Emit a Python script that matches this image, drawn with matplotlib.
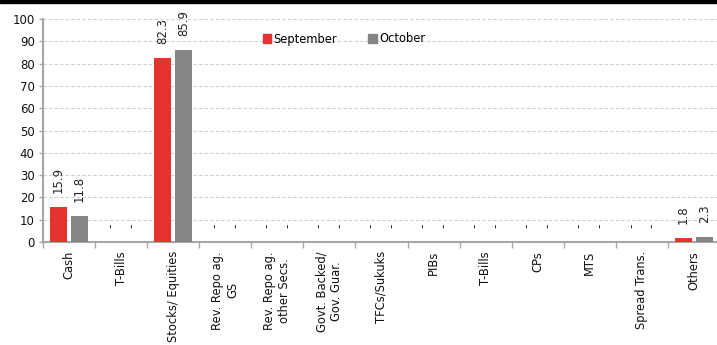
import matplotlib
matplotlib.use("Agg")
import matplotlib.pyplot as plt
import numpy as np
from matplotlib.patches import Rectangle, Patch

categories = ["Cash", "T-Bills", "Stocks/ Equities", "Rev. Repo ag.\nGS",
              "Rev. Repo ag.\nother Secs.", "Govt. Backed/\nGov. Guar.",
              "TFCs/Sukuks", "PIBs", "T-Bills", "CPs", "MTS",
              "Spread Trans.", "Others"]
september = [15.9, 0, 82.3, 0, 0, 0, 0, 0, 0, 0, 0, 0, 1.8]
october = [11.8, 0, 85.9, 0, 0, 0, 0, 0, 0, 0, 0, 0, 2.3]
series_names = ["September", "October"]
colors = ["#E53430", "#858585"]

plt.rcParams['font.family'] = ['DejaVu Sans']

W, H = 717, 345
fig = plt.figure(figsize=(W / 100, H / 100), dpi=100)
left, right, top, bottom = 43, 720, 19, 242
ax = fig.add_axes([left / W, 1 - bottom / H, (right - left) / W, (bottom - top) / H])

x = np.arange(len(categories))
bw = 0.33
off = 0.2
for vals, name, c, sgn in [(september, series_names[0], colors[0], -1),
                           (october, series_names[1], colors[1], 1)]:
    bars = ax.bar(x + sgn * off, vals, width=bw, color=c, label=name, zorder=3)
    for b, v in zip(bars, vals):
        lab = "-" if v == 0 else f"{v:.1f}"
        ax.annotate(lab, (b.get_x() + b.get_width() / 2, v),
                    xytext=(0, 14), textcoords='offset pixels',
                    rotation=90, ha='center', va='bottom', fontsize=8.5,
                    color='#222222')

ax.set_xlim(-0.5, len(categories) - 0.5)
ax.set_ylim(0, 100)
ax.set_yticks(np.arange(0, 101, 10))
ax.yaxis.grid(True, color='#D0D0D0', linestyle=(0, (3, 2)), linewidth=0.8, zorder=0)
ax.set_axisbelow(True)

ax.set_xticks(np.arange(-0.5, len(categories) + 0.5, 1))
ax.set_xticklabels([])
ax.set_xticks(x, minor=True)
ax.set_xticklabels(categories, minor=True, rotation=90, ha='center', va='top',
                   fontsize=8.3, multialignment='center', color='#111111')
ax.tick_params(axis='x', which='minor', length=0, pad=6.5)
ax.tick_params(axis='x', which='major', length=4, color='#A6A6A6', width=1.0)
ax.tick_params(axis='y', length=3, color='#A6A6A6', width=1.0, labelsize=8.5, pad=3,
               labelcolor='#111111')

for s in ['top', 'right']:
    ax.spines[s].set_visible(False)
for s in ['left', 'bottom']:
    ax.spines[s].set_color('#A6A6A6')
    ax.spines[s].set_linewidth(1.5)

handles = [Patch(color=colors[0]), Patch(color=colors[1])]
fig.legend(handles, series_names, loc='center', bbox_to_anchor=(344 / W, 1 - 39 / H),
           ncol=2, frameon=False, fontsize=8.3, handlelength=0.75, handleheight=0.75,
           handletextpad=0.2, columnspacing=2.7, borderaxespad=0)

fig.add_artist(Rectangle((0, 1 - 3 / H), 1, 3 / H, transform=fig.transFigure,
                         color='black', zorder=10))

fig.savefig("out.png", dpi=100)
